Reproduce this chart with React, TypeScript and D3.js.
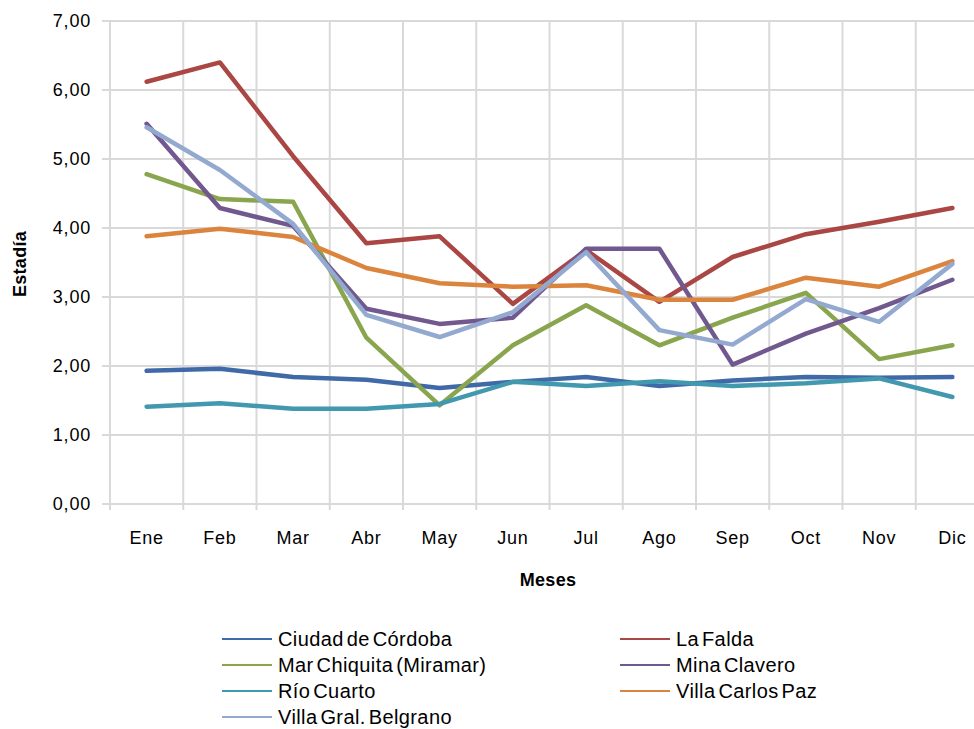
import React from 'react'
import * as d3 from 'd3'

const months = ['Ene', 'Feb', 'Mar', 'Abr', 'May', 'Jun', 'Jul', 'Ago', 'Sep', 'Oct', 'Nov', 'Dic']
const yTicks = [0, 1, 2, 3, 4, 5, 6, 7]

const cordoba = [1.93, 1.96, 1.84, 1.8, 1.68, 1.77, 1.84, 1.71, 1.79, 1.84, 1.83, 1.84]
const laFalda = [6.12, 6.4, 5.04, 3.78, 3.88, 2.9, 3.68, 2.93, 3.58, 3.91, 4.09, 4.29]
const marChiquita = [4.78, 4.42, 4.38, 2.41, 1.43, 2.3, 2.88, 2.3, 2.7, 3.06, 2.1, 2.3]
const minaClavero = [5.51, 4.29, 4.03, 2.83, 2.61, 2.7, 3.7, 3.7, 2.02, 2.47, 2.84, 3.25]
const rioCuarto = [1.41, 1.46, 1.38, 1.38, 1.45, 1.77, 1.71, 1.78, 1.71, 1.75, 1.82, 1.55]
const carlosPaz = [3.88, 3.99, 3.87, 3.42, 3.2, 3.15, 3.17, 2.96, 2.96, 3.28, 3.15, 3.52]
const belgrano = [5.46, 4.84, 4.06, 2.74, 2.42, 2.78, 3.65, 2.52, 2.31, 2.97, 2.64, 3.48]

const series = [
  { name: 'Ciudad de Córdoba', color: '#4069A8', values: cordoba },
  { name: 'La Falda', color: '#AA4643', values: laFalda },
  { name: 'Mar Chiquita (Miramar)', color: '#89A54E', values: marChiquita },
  { name: 'Mina Clavero', color: '#71588F', values: minaClavero },
  { name: 'Río Cuarto', color: '#4198AF', values: rioCuarto },
  { name: 'Villa Carlos Paz', color: '#DB843D', values: carlosPaz },
  { name: 'Villa Gral. Belgrano', color: '#93A9CF', values: belgrano },
]

const W = 974
const H = 729
const left = 110
const right = 989
const top = 21
const bottom = 504
const grid = '#d9d9d9'
const font = 'Arial, "Liberation Sans", sans-serif'

export default function App() {
  const x = d3.scaleBand<string>().domain(months).range([left, right]).padding(0)
  const y = d3.scaleLinear().domain([0, 7]).range([bottom, top])
  const bw = x.bandwidth()
  const cx = (m: string) => (x(m) ?? 0) + bw / 2

  const line = d3.line<number>()
    .x((_, i) => cx(months[i]))
    .y(d => y(d))

  const bounds = months.map(m => x(m) ?? 0).concat([right])
  const fmt = (v: number) => v.toFixed(2).replace('.', ',')

  return (
    <div style={{ position: 'absolute', left: 0, top: 0 }}>
      <svg width={W} height={H} style={{ display: 'block', background: '#fff' }} fontFamily={font}>
        {/* horizontal grid */}
        {yTicks.map(t => (
          <line key={'h' + t} x1={left - 8} x2={right} y1={y(t)} y2={y(t)} stroke={grid} strokeWidth={2} />
        ))}
        {/* vertical grid */}
        {bounds.map((bx, i) => (
          <line key={'v' + i} x1={bx} x2={bx} y1={top} y2={bottom + 6} stroke={grid} strokeWidth={2} />
        ))}
        {/* y labels */}
        {yTicks.map(t => (
          <text key={'yl' + t} x={91} y={y(t)} dy="0.35em" textAnchor="end" fontSize={18} letterSpacing={0.8} fill="#000">
            {fmt(t)}
          </text>
        ))}
        {/* x labels */}
        {months.map(m => (
          <text key={'xl' + m} x={cx(m)} y={538} dy="0.35em" textAnchor="middle" fontSize={18} letterSpacing={0.8} fill="#000">
            {m}
          </text>
        ))}
        <text x={548} y={580} dy="0.35em" textAnchor="middle" fontSize={18} fontWeight="bold" letterSpacing={0.3}>Meses</text>
        <text transform={`translate(20,264) rotate(-90)`} dy="0.35em" textAnchor="middle" fontSize={18} fontWeight="bold" letterSpacing={0.3}>Estadía</text>

        {/* lines */}
        {series.map(s => (
          <path key={s.name} d={line(s.values) ?? ''} fill="none" stroke={s.color} strokeWidth={4.5}
            strokeLinejoin="round" strokeLinecap="round" />
        ))}

        {/* legend */}
        {series.map((s, i) => {
          const col = i % 2
          const row = Math.floor(i / 2)
          const lx = col === 0 ? 222 : 620
          const ly = 639 + row * 26
          return (
            <g key={'lg' + s.name}>
              <line x1={lx} x2={lx + 50} y1={ly} y2={ly} stroke={s.color} strokeWidth={2} />
              <text x={lx + 56} y={ly} dy="0.35em" fontSize={20} letterSpacing={0.4} wordSpacing={-3} fill="#000">{s.name}</text>
            </g>
          )
        })}
      </svg>
    </div>
  )
}
